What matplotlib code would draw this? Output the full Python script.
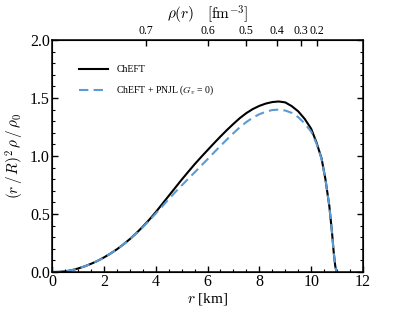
import numpy as np
import matplotlib
matplotlib.use("Agg")
import matplotlib.pyplot as plt

plt.rcParams['font.family'] = 'Liberation Serif'
plt.rcParams['mathtext.fontset'] = 'cm'

# ChEFT curve
r_cheft = [0.0, 0.25, 0.5, 0.75, 1.0, 1.25, 1.5, 1.75, 2.0, 2.25, 2.5, 2.75,
           3.0, 3.25, 3.5, 3.75, 4.0, 4.25, 4.5, 4.75, 5.0, 5.25, 5.5, 5.75,
           6.0, 6.25, 6.5, 6.75, 7.0, 7.25, 7.5, 7.75, 8.0, 8.25, 8.5, 8.75,
           9.0, 9.25, 9.5, 9.75, 10.0, 10.2, 10.4, 10.55, 10.7, 10.8, 10.87,
           10.93, 10.97, 11.0]
y_cheft = [0.0, 0.001, 0.005, 0.015, 0.03, 0.048, 0.07, 0.095, 0.125, 0.158,
           0.195, 0.237, 0.283, 0.334, 0.39, 0.45, 0.515, 0.585, 0.655, 0.725,
           0.795, 0.862, 0.928, 0.99, 1.05, 1.11, 1.168, 1.224, 1.277, 1.327,
           1.37, 1.405, 1.432, 1.452, 1.465, 1.47, 1.462, 1.43, 1.385, 1.32,
           1.235, 1.12, 0.98, 0.80, 0.57, 0.35, 0.17, 0.05, 0.01, 0.0]

# ChEFT + PNJL (Gv = 0)
r_pnjl = [0.0, 0.25, 0.5, 0.75, 1.0, 1.25, 1.5, 1.75, 2.0, 2.25, 2.5, 2.75,
          3.0, 3.25, 3.5, 3.75, 4.0, 4.25, 4.5, 4.75, 5.0, 5.25, 5.5, 5.75,
          6.0, 6.25, 6.5, 6.75, 7.0, 7.25, 7.5, 7.75, 8.0, 8.25, 8.5, 8.75,
          9.0, 9.25, 9.5, 9.75, 10.0, 10.2, 10.4, 10.55, 10.7, 10.8, 10.87,
          10.93, 10.97, 11.0]
y_pnjl = [0.0, 0.001, 0.005, 0.015, 0.03, 0.048, 0.07, 0.095, 0.125, 0.158,
          0.195, 0.237, 0.282, 0.332, 0.385, 0.443, 0.503, 0.565, 0.627, 0.687,
          0.745, 0.802, 0.858, 0.915, 0.972, 1.03, 1.087, 1.143, 1.197, 1.248,
          1.293, 1.331, 1.36, 1.382, 1.396, 1.40, 1.392, 1.372, 1.335, 1.28,
          1.21, 1.11, 0.975, 0.80, 0.57, 0.35, 0.17, 0.05, 0.01, 0.0]

# top axis: density labels and the radius where they sit
rho_labels = ['0.7', '0.6', '0.5', '0.4', '0.3', '0.2']
rho_r_pos = [3.63, 6.02, 7.49, 8.69, 9.61, 10.23]

fig = plt.figure(figsize=(4.15, 3.12), dpi=100)
ax = fig.add_axes([0.1253, 0.1282, 0.7494, 0.7436])

ax.plot(r_cheft, y_cheft, color='black', lw=1.5, label='ChEFT')
ax.plot(r_pnjl, y_pnjl, color='#5b9bd5', lw=1.5, ls=(0, (4.5, 2.5)),
        label=r'ChEFT + PNJL ($G_v$ = 0)')

ax.set_xlim(0, 12)
ax.set_ylim(0, 2.0)
ax.set_xticks(np.arange(0, 13, 2))
ax.set_xticks(np.arange(0, 12.01, 0.5), minor=True)
ax.set_yticks(np.arange(0, 2.01, 0.5))
ax.set_yticks(np.arange(0, 2.01, 0.1), minor=True)
ax.set_yticklabels(['0.0', '0.5', '1.0', '1.5', '2.0'])
ax.tick_params(which='both', direction='in', right=True, top=False,
               labelsize=11.5, pad=1.5)
ax.tick_params(which='major', length=4.5, width=1.0)
ax.tick_params(which='minor', length=2.2, width=0.8)
for s in ax.spines.values():
    s.set_linewidth(1.1)
ax.set_xlabel(r'$r$ [km]', fontsize=11, labelpad=1)
ax.set_ylabel(r'$(r\,/\,R)^2\,\rho\,/\,\rho_0$', fontsize=11, labelpad=3)

top = ax.twiny()
top.set_xlim(0, 12)
top.set_xticks(rho_r_pos)
top.set_xticklabels(rho_labels)
top.tick_params(direction='in', length=4.5, width=1.0, labelsize=8.5, pad=2)
top.set_xlabel(r'$\rho(r)\quad[\mathrm{fm}^{-3}]$', fontsize=11, labelpad=4)

ax.legend(loc='upper left', bbox_to_anchor=(0.06, 0.93), frameon=False,
          fontsize=7, handlelength=2.9, handletextpad=0.9, labelspacing=1.0)

fig.savefig('out.png', dpi=100)
